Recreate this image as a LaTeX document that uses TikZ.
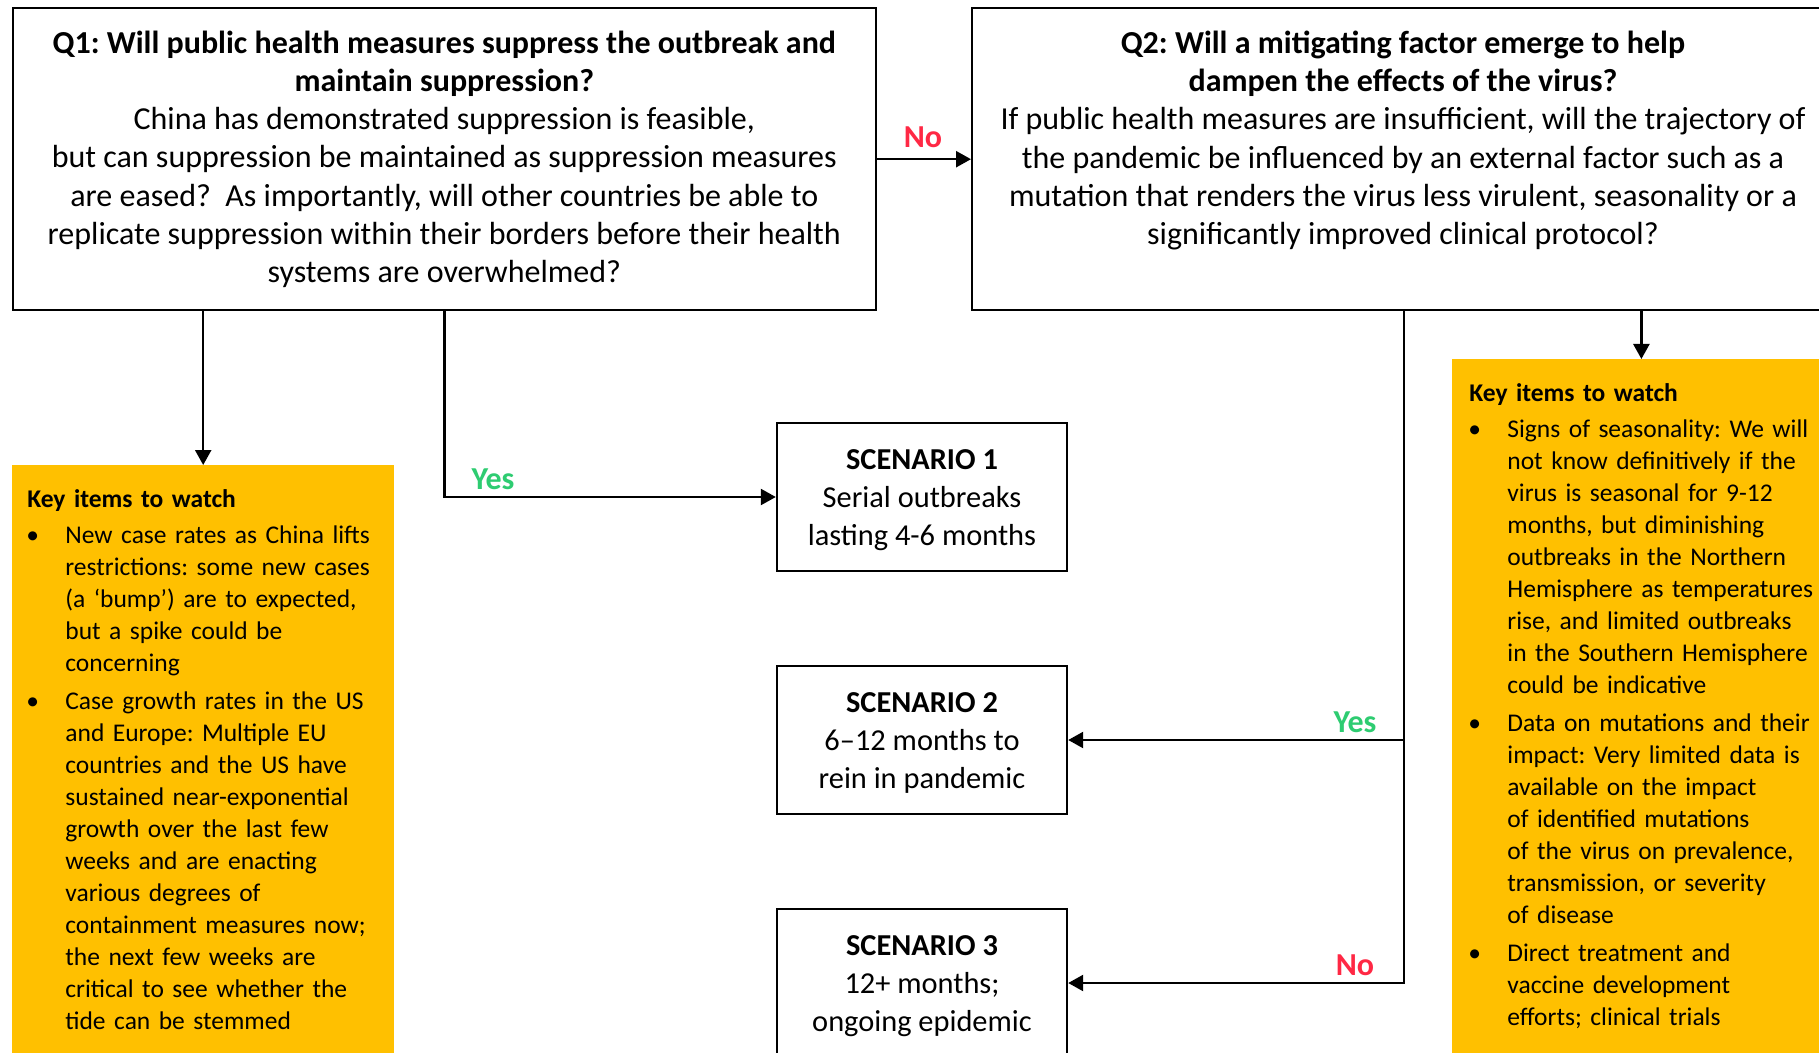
\documentclass[tikz,border=0pt]{standalone}
\usepackage{fontspec}
\setmainfont{Carlito}
\usetikzlibrary{arrows.meta}
\definecolor{gold}{RGB}{255,192,0}
\definecolor{nored}{RGB}{255,40,68}
\definecolor{yesgreen}{RGB}{46,204,113}
\newcommand{\kitem}[1]{\par\vspace{2pt}\noindent\makebox[19pt][l]{\hspace{-0.5pt}•}\begin{tabular}[t]{@{}l@{}}#1\end{tabular}\par}
\frenchspacing
\begin{document}
\frenchspacing
\begin{tikzpicture}[x=0.5pt,y=-0.5pt,
  qbox/.style={draw=black, line width=1.2pt, inner sep=0pt, anchor=north west, minimum height=151pt},
  qfont/.style={font=\fontsize{16}{19.1}\selectfont\frenchspacing},
  sbox/.style={draw=black, line width=1.2pt, inner sep=0pt, minimum width=145pt, minimum height=74pt, align=center, font=\fontsize{15.2}{19.1}\selectfont},
  kbox/.style={fill=gold, inner sep=0pt, anchor=north west},
  ktext/.style={anchor=north west, inner sep=0pt, text width=185pt, font=\fontsize{12.75}{16}\selectfont\frenchspacing},
  arr/.style={line width=1.2pt, -{Triangle[length=7.5pt,width=8pt]}},
  lab/.style={font=\fontsize{16}{19}\selectfont\bfseries, inner sep=0pt}]
\useasboundingbox (0,0) rectangle (1819,1053);

% question boxes
\node[qbox, qfont, minimum width=431.5pt, align=center] (q1) at (11.6,7) {%
\textbf{Q1: Will public health measures suppress the outbreak and}\\
\textbf{maintain suppression?}\\
China has demonstrated suppression is feasible,\\
but can suppression be maintained as suppression measures\\
are eased?~ As importantly, will other countries be able to\\
replicate suppression within their borders before their health\\
systems are overwhelmed?};
\node[qbox, minimum width=432pt] (q2) at (971,7) {};
\node[qfont, align=center, inner sep=0pt] (q2t) at (1403,140.5) {%
\textbf{Q2: Will a mitigating factor emerge to help}\\
\textbf{dampen the effects of the virus?}\\
If public health measures are insufficient, will the trajectory of\\
the pandemic be influenced by an external factor such as a\\
mutation that renders the virus less virulent, seasonality or a\\
significantly improved clinical protocol?};

% scenarios
\node[sbox] (s1) at (922,497) {\rule{0pt}{13.2pt}\textbf{SCENARIO 1}\\Serial outbreaks\\lasting 4-6 months};
\node[sbox] (s2) at (922,740) {\rule{0pt}{13.2pt}\textbf{SCENARIO 2}\\6–12 months to\\rein in pandemic};
\node[sbox] (s3) at (922,983) {\rule{0pt}{13.2pt}\textbf{SCENARIO 3}\\12+ months;\\ongoing epidemic};

% key items boxes
\node[kbox, minimum width=191.2pt, minimum height=300pt] (k1) at (11.6,465) {};
\node[ktext] (k1t) at (27,487) {\rule{0pt}{10pt}\textbf{Key items to watch}
\kitem{New case rates as China lifts\\restrictions: some new cases\\(a ‘bump’) are to expected,\\but a spike could be\\concerning}
\kitem{Case growth rates in the US\\and Europe: Multiple EU\\countries and the US have\\sustained near-exponential\\growth over the last few\\weeks and are enacting\\various degrees of\\containment measures now;\\the next few weeks are\\critical to see whether the\\tide can be stemmed}};

\node[kbox, minimum width=189pt, minimum height=352pt] (k2) at (1452,359) {};
\node[ktext] (k2t) at (1469,381) {\rule{0pt}{10pt}\textbf{Key items to watch}
\kitem{Signs of seasonality: We will\\not know definitively if the\\virus is seasonal for 9-12\\months, but diminishing\\outbreaks in the Northern\\Hemisphere as temperatures\\rise, and limited outbreaks\\in the Southern Hemisphere\\could be indicative}
\kitem{Data on mutations and their\\impact: Very limited data is\\available on the impact\\of identified mutations\\of the virus on prevalence,\\transmission, or severity\\of disease}
\kitem{Direct treatment and\\vaccine development\\efforts; clinical trials}};

% connectors
\draw[arr] (q1.east) -- (q2.west);
\node[lab, text=nored] (lno1) at (923,137) {No};
\draw[arr] (k1.north |- q1.south) -- (k1.north);
\draw[arr] (q1.south) |- (s1.west);
\node[lab, text=yesgreen] (lyes1) at (493,479) {Yes};
\draw[arr] (k2.north |- q2.south) -- (k2.north);
\draw[arr] (q2.south) |- (s2.east);
\draw[arr] (q2.south) |- (s3.east);
\node[lab, text=yesgreen] (lyes2) at (1355,722) {Yes};
\node[lab, text=nored] (lno2) at (1355,965) {No};
\end{tikzpicture}
\end{document}
